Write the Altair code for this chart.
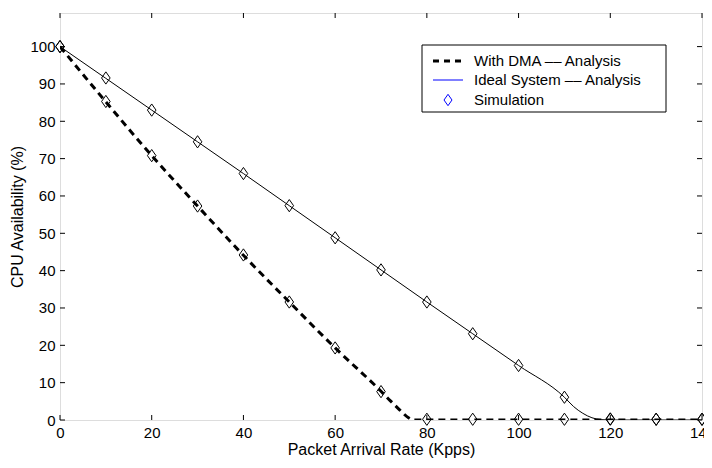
import altair as alt
import pandas as pd

# ---- data ----
ideal_x = [0, 10, 20, 30, 40, 50, 60, 70, 80, 90, 100, 110, 112, 114, 116, 118, 120, 130, 140]
ideal_y = [100, 91.5, 83.0, 74.5, 66.0, 57.4, 48.8, 40.2, 31.6, 23.1, 14.6, 6.1, 3.6, 1.8, 0.6, 0.1, 0, 0, 0]

dma_x = [0, 10, 20, 30, 40, 50, 60, 70, 72, 74, 76, 77, 80, 90, 100, 110, 120, 130, 140]
dma_y = [100, 85.2, 70.8, 57.3, 44.1, 31.6, 19.3, 7.7, 5.2, 2.8, 0.6, 0, 0, 0, 0, 0, 0, 0, 0]

sim_x = [0, 10, 20, 30, 40, 50, 60, 70, 80, 90, 100, 110, 120, 130, 140]
sim_ideal = [100, 91.6, 83.0, 74.5, 66.0, 57.4, 48.8, 40.2, 31.6, 23.1, 14.6, 6.1, 0.3, 0.2, 0.2]
sim_dma = [100, 85.3, 70.8, 57.3, 44.2, 31.6, 19.3, 7.6, 0.2, 0.2, 0.2, 0.2, 0.2, 0.2, 0.2]

x_ticks = [0, 20, 40, 60, 80, 100, 120, 140]
y_ticks = [0, 10, 20, 30, 40, 50, 60, 70, 80, 90, 100]

legend_labels = ["With DMA \u2013\u2013 Analysis", "Ideal System \u2013\u2013 Analysis", "Simulation"]

W, H = 642, 407
FONT = "Liberation Sans"

xs = alt.Scale(domain=[0, 140], nice=False, zero=False)
ys = alt.Scale(domain=[0, 109], nice=False, zero=False)

ideal_df = pd.DataFrame({"x": ideal_x, "y": ideal_y})
dma_df = pd.DataFrame({"x": dma_x, "y": dma_y})
sim_df = pd.DataFrame({"x": sim_x + sim_x, "y": sim_ideal + sim_dma})

DIAMOND = "M0,-1L0.7,0L0,1L-0.7,0Z"

base_x = alt.X("x:Q", scale=xs, title="Packet Arrival Rate (Kpps)",
               axis=alt.Axis(values=x_ticks, tickSize=0, domain=False, grid=False,
                             labelPadding=5, labelFontSize=15, titleFontSize=16,
                             titlePadding=1, titleFontWeight="normal",
                             labelFont=FONT, titleFont=FONT, labelColor="black",
                             titleColor="black", labelFlush=False))
base_y = alt.Y("y:Q", scale=ys, title="CPU Availability (%)",
               axis=alt.Axis(values=y_ticks, tickSize=0, domain=False, grid=False,
                             labelPadding=5, labelFontSize=15, titleFontSize=16,
                             titlePadding=4, titleFontWeight="normal",
                             labelFont=FONT, titleFont=FONT, labelColor="black",
                             titleColor="black", labelFlush=False))

ideal_line = alt.Chart(ideal_df).mark_line(color="black", strokeWidth=1, interpolate="monotone",
                                           clip=True).encode(x=base_x, y=base_y)
dma_line = alt.Chart(dma_df).mark_line(color="black", strokeWidth=3, strokeDash=[7, 5],
                                       interpolate="monotone", clip=True).encode(
    x=alt.X("x:Q", scale=xs), y=alt.Y("y:Q", scale=ys))
sim_pts = alt.Chart(sim_df).mark_point(shape=DIAMOND, size=150, color="black", strokeWidth=1,
                                       filled=False, opacity=1).encode(
    x=alt.X("x:Q", scale=xs), y=alt.Y("y:Q", scale=ys))

# inward ticks (MATLAB style)
xt = pd.DataFrame({"t": x_ticks})
yt = pd.DataFrame({"t": y_ticks})
tick_style = dict(color="black", strokeWidth=1)
bot = alt.Chart(xt).mark_rule(**tick_style).encode(
    x=alt.X("t:Q", scale=xs), y=alt.value(H), y2=alt.value(H - 5))
top = alt.Chart(xt).mark_rule(**tick_style).encode(
    x=alt.X("t:Q", scale=xs), y=alt.value(0), y2=alt.value(5))
left = alt.Chart(yt).mark_rule(**tick_style).encode(
    y=alt.Y("t:Q", scale=ys), x=alt.value(0), x2=alt.value(5))
right = alt.Chart(yt).mark_rule(**tick_style).encode(
    y=alt.Y("t:Q", scale=ys), x=alt.value(W), x2=alt.value(W - 5))

# legend
one = pd.DataFrame({"a": [0]})
LX0, LX1, LY0, LY1 = 362, 606, 32, 99
leg_box = alt.Chart(one).mark_rect(fill="white", stroke="black", strokeWidth=1).encode(
    x=alt.value(LX0), x2=alt.value(LX1), y=alt.value(LY0), y2=alt.value(LY1))
row_y = [48, 67, 87]
leg_dash = alt.Chart(one).mark_rule(color="black", strokeWidth=3, strokeDash=[6, 5]).encode(
    x=alt.value(373), x2=alt.value(403), y=alt.value(row_y[0]))
leg_solid = alt.Chart(one).mark_rule(color="blue", strokeWidth=1).encode(
    x=alt.value(373), x2=alt.value(403), y=alt.value(row_y[1]))
leg_dia = alt.Chart(one).mark_point(shape=DIAMOND, size=130, color="blue", filled=False,
                                    strokeWidth=1, opacity=1).encode(
    x=alt.value(388), y=alt.value(row_y[2]))
leg_texts = [
    alt.Chart(one).mark_text(text=lab, align="left", baseline="middle", font=FONT,
                             fontSize=15, color="black").encode(
        x=alt.value(414), y=alt.value(ry))
    for lab, ry in zip(legend_labels, row_y)
]

chart = alt.layer(
    ideal_line, dma_line, sim_pts, bot, top, left, right,
    leg_box, leg_dash, leg_solid, leg_dia, *leg_texts
).properties(
    width=W, height=H,
    autosize=alt.AutoSizeParams(type="none"),
    padding={"left": 52, "top": 5, "right": 2, "bottom": 40},
).configure_view(
    stroke="black", strokeWidth=1
).configure(background="white")

chart.save("out.html", embed_options={"renderer": "svg", "actions": False})
